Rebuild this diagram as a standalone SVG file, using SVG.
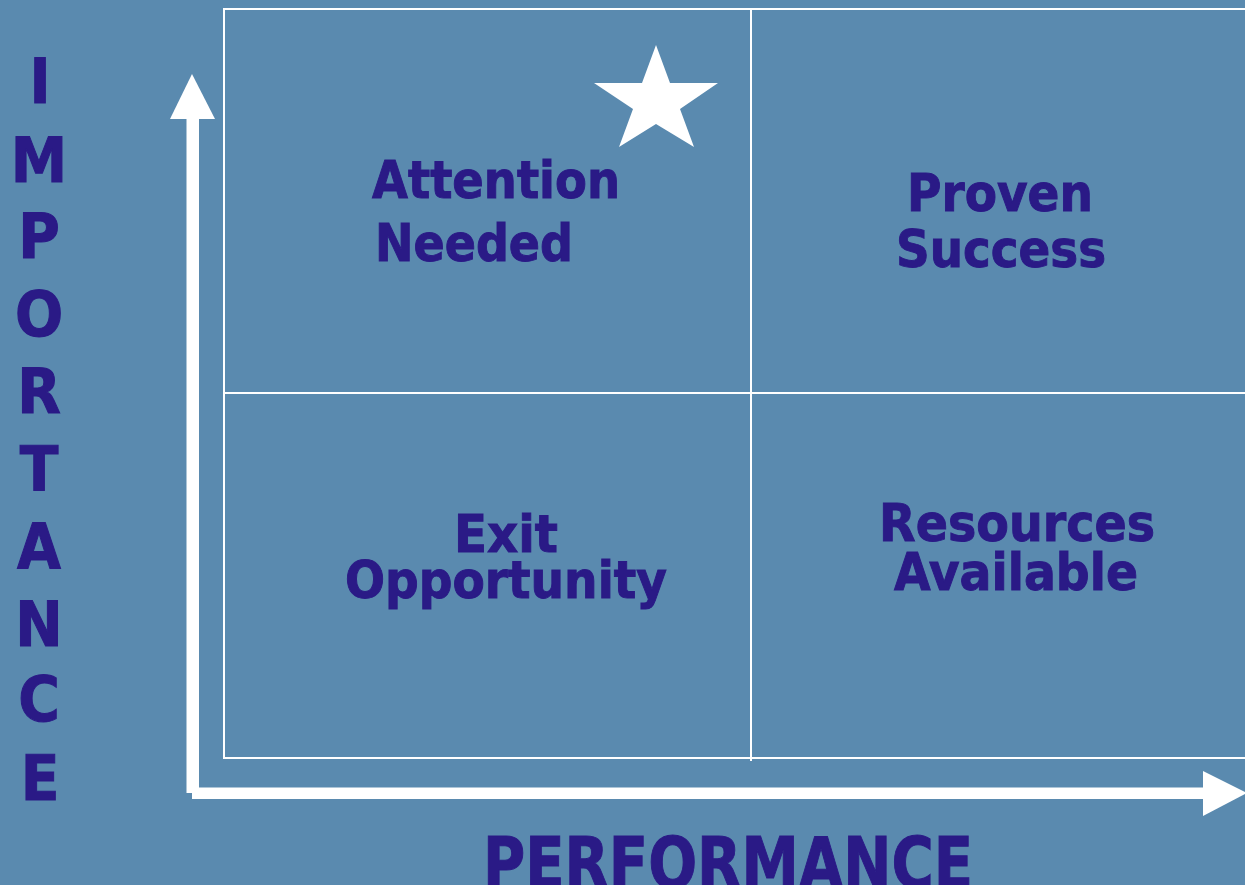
<svg xmlns="http://www.w3.org/2000/svg" width="1245" height="885" viewBox="0 0 1245 885">
  <style>
    .bg { fill: #5A8AAF; }
    .grid { fill: none; stroke: #FFFFFF; stroke-width: 2; }
    .axis { fill: #FFFFFF; stroke: none; }
    .lbl { font-family: "DejaVu Sans Condensed", "DejaVu Sans", sans-serif; font-weight: bold; font-size: 51px; fill: #2A1A86; stroke: #2A1A86; stroke-width: 0.9; text-anchor: middle; }
    .ax { font-family: "DejaVu Sans Condensed", "DejaVu Sans", sans-serif; font-weight: bold; fill: #2A1A86; stroke: #2A1A86; stroke-width: 1; text-anchor: middle; }
  </style>

  <rect class="bg" x="0" y="0" width="1245" height="885"/>

  <!-- quadrant grid -->
  <g id="grid">
    <rect class="grid" x="224" y="9" width="1030" height="749"/>
    <line class="grid" x1="751" y1="9" x2="751" y2="761"/>
    <line class="grid" x1="224" y1="393" x2="1250" y2="393"/>
  </g>

  <!-- axes -->
  <g id="connectors">
    <g id="axis-importance">
      <rect class="axis" x="186.5" y="117" width="12.5" height="676"/>
      <polygon class="axis" points="192,74 215,119 170,119"/>
    </g>
    <g id="axis-performance">
      <rect class="axis" x="192" y="787.5" width="1012" height="11.5"/>
      <polygon class="axis" points="1203,771 1247,793 1203,816"/>
    </g>
  </g>

  <!-- marker star -->
  <g id="star">
    <polygon fill="#FFFFFF" points="656,45 670,83 718,83 680,109 694,147 656,124 619,147 633,109 594,83 642,83"/>
  </g>

  <!-- quadrant labels -->
  <g id="attention-needed">
    <text class="lbl" x="496" y="198" textLength="248" lengthAdjust="spacingAndGlyphs">Attention</text>
    <text class="lbl" x="474" y="261" textLength="198" lengthAdjust="spacingAndGlyphs">Needed</text>
  </g>
  <g id="proven-success">
    <text class="lbl" x="1000" y="211" textLength="186" lengthAdjust="spacingAndGlyphs">Proven</text>
    <text class="lbl" x="1001" y="267" textLength="210" lengthAdjust="spacingAndGlyphs">Success</text>
  </g>
  <g id="exit-opportunity">
    <text class="lbl" x="506" y="552" textLength="104" lengthAdjust="spacingAndGlyphs">Exit</text>
    <text class="lbl" x="506" y="598" textLength="322" lengthAdjust="spacingAndGlyphs">Opportunity</text>
  </g>
  <g id="resources-available">
    <text class="lbl" x="1017" y="541" textLength="276" lengthAdjust="spacingAndGlyphs">Resources</text>
    <text class="lbl" x="1016" y="590" textLength="244" lengthAdjust="spacingAndGlyphs">Available</text>
  </g>

  <!-- axis titles -->
  <g id="title-importance" class="ax" font-size="63">
    <text x="40" y="103">I</text>
    <text x="39" y="182">M</text>
    <text x="39" y="258">P</text>
    <text x="39" y="336">O</text>
    <text x="39" y="413">R</text>
    <text x="39" y="491">T</text>
    <text x="39" y="568">A</text>
    <text x="39" y="646">N</text>
    <text x="39" y="721">C</text>
    <text x="40" y="800">E</text>
  </g>
  <g id="title-performance">
    <text class="ax" x="728" y="888" font-size="72" textLength="490" lengthAdjust="spacingAndGlyphs">PERFORMANCE</text>
  </g>
</svg>
